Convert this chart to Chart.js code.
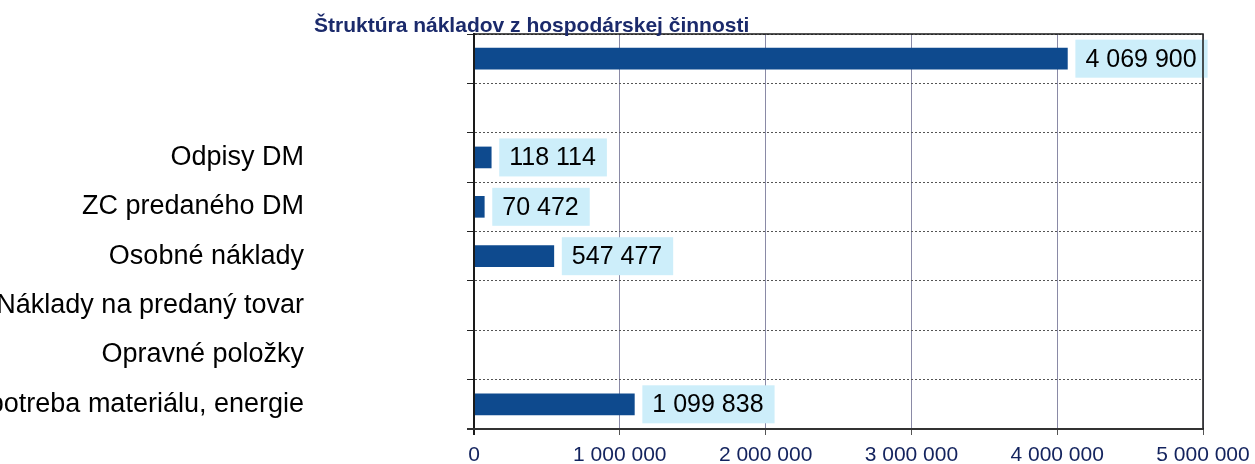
<!DOCTYPE html>
<html>
<head>
<meta charset="utf-8">
<script src="https://cdn.jsdelivr.net/npm/chart.js@4.4.1/dist/chart.umd.min.js"></script>
<style>
html,body{margin:0;padding:0;background:#ffffff;}
#wrap{position:relative;width:1255px;height:464px;}
</style>
</head>
<body>
<div id="wrap"><canvas id="c" width="1255" height="464"></canvas></div>
<script>
const chartTitle = 'Štruktúra nákladov z hospodárskej činnosti';
const categories = ['', '', 'Odpisy DM', 'ZC predaného DM', 'Osobné náklady', 'Náklady na predaný tovar', 'Opravné položky', 'Spotreba materiálu, energie'];
const values = [4069900, null, 118114, 70472, 547477, 0, 0, 1099838];
const xTickLabels = ['0', '1 000 000', '2 000 000', '3 000 000', '4 000 000', '5 000 000'];

function fmt(v){ return String(v).replace(/\B(?=(\d{3})+(?!\d))/g, ' '); }

const labelPlugin = {
  id: 'valueLabels',
  afterDatasetsDraw(chart){
    const ctx = chart.ctx;
    const meta = chart.getDatasetMeta(0);
    ctx.save();
    ctx.font = '25px "Liberation Sans", Arial, sans-serif';
    ctx.textBaseline = 'middle';
    ctx.textAlign = 'left';
    meta.data.forEach((bar, i) => {
      const v = values[i];
      if (!v) return;
      const txt = fmt(v);
      const w = ctx.measureText(txt).width;
      const bx = bar.x + 8;
      const bh = 38;
      ctx.fillStyle = '#cdeefa';
      ctx.fillRect(bx, bar.y - bh/2, w + 21, bh);
      ctx.fillStyle = '#000000';
      ctx.fillText(txt, bx + 10, bar.y + 1);
    });
    ctx.restore();
  }
};

const framePlugin = {
  id: 'frame',
  afterDraw(chart){
    const {ctx, chartArea:a} = chart;
    ctx.save();
    ctx.strokeStyle = '#1a1a1a';
    ctx.lineWidth = 1.5;
    ctx.beginPath();
    ctx.moveTo(a.left, a.top); ctx.lineTo(a.right, a.top); ctx.lineTo(a.right, a.bottom);
    ctx.stroke();
    ctx.lineWidth = 2;
    ctx.beginPath();
    ctx.moveTo(a.left, a.top); ctx.lineTo(a.left, a.bottom + 6);
    ctx.stroke();
    ctx.strokeStyle = '#333333';
    ctx.beginPath();
    ctx.moveTo(a.left - 7, a.bottom); ctx.lineTo(a.right, a.bottom);
    ctx.stroke();
    ctx.fillStyle = '#1b2a6b';
    ctx.font = 'bold 21px "Liberation Sans", Arial, sans-serif';
    ctx.textAlign = 'left';
    ctx.textBaseline = 'alphabetic';
    ctx.fillText(chartTitle, a.left - 160, 32);
    ctx.restore();
  }
};

new Chart(document.getElementById('c'), {
  type: 'bar',
  data: {
    labels: categories,
    datasets: [{
      data: values,
      backgroundColor: '#0e4a8e',
      borderWidth: 0,
      barThickness: 21
    }]
  },
  options: {
    indexAxis: 'y',
    responsive: false,
    animation: false,
    layout: { padding: { top: 34, right: 52, left: 0, bottom: 0 } },
    plugins: { legend: { display: false }, tooltip: { enabled: false }, title: { display: false } },
    scales: {
      x: {
        min: 0, max: 5000000,
        ticks: {
          stepSize: 1000000,
          color: '#13235e',
          font: { family: '"Liberation Sans", Arial, sans-serif', size: 21 },
          padding: 8,
          maxRotation: 0,
          callback: (v, i) => xTickLabels[i]
        },
        grid: { color: '#8a8aa6', lineWidth: 1, tickLength: 6, tickColor: '#555555' },
        border: { display: true, color: '#333333', width: 2 },
        afterFit: (s) => { s.height = 35; s.paddingLeft = 0; s.paddingRight = 0; }
      },
      y: {
        ticks: {
          color: '#000000',
          font: { family: '"Liberation Sans", Arial, sans-serif', size: 27 },
          padding: 163,
          autoSkip: false
        },
        grid: { offset: true, color: '#555555', lineWidth: 1, tickLength: 7, tickColor: '#222222', tickBorderDash: [] },
        border: { display: true, color: '#1a1a1a', width: 2, dash: [2, 2] },
        afterFit: (s) => { s.width = 474; s.paddingTop = 0; s.paddingBottom = 0; }
      }
    }
  },
  plugins: [labelPlugin, framePlugin]
});
</script>
</body>
</html>
